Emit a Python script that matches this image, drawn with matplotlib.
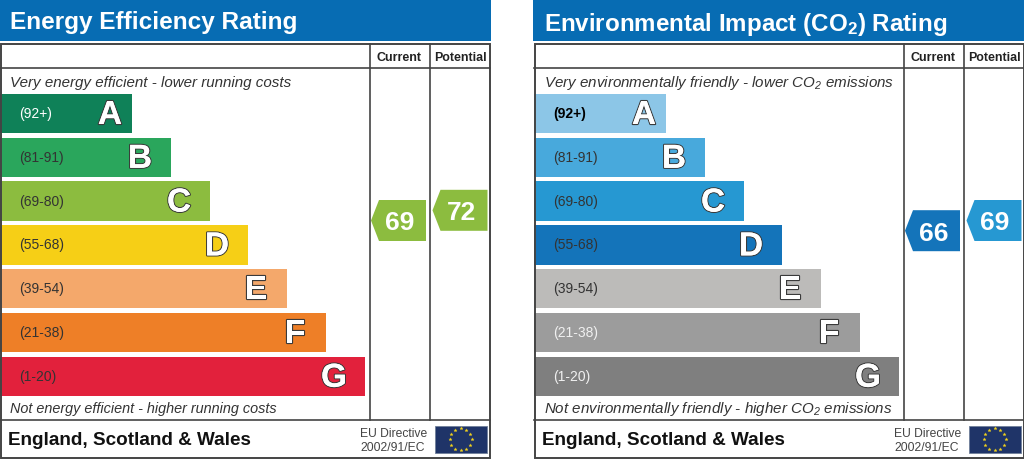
import matplotlib
matplotlib.use("Agg")
import matplotlib.pyplot as plt
import matplotlib.patheffects as pe
import numpy as np
from matplotlib.patches import Polygon, Rectangle

plt.rcParams["font.family"] = ["Liberation Sans", "DejaVu Sans"]
plt.rcParams["mathtext.default"] = "regular"

# Data
letters = ["A", "B", "C", "D", "E", "F", "G"]
ranges = ["(92+)", "(81-91)", "(69-80)", "(55-68)", "(39-54)", "(21-38)", "(1-20)"]
bar_lengths = [132, 171, 210, 248, 287, 326, 365]

energy_colors = ["#0f8158", "#2aa65c", "#8cbc3f", "#f6cf16", "#f4a86b", "#ee7f27", "#e2213c"]
energy_label_colors = ["white", "#333333", "#333333", "#333333", "#333333", "#333333", "#333333"]
env_colors = ["#8cc6e7", "#48a9dc", "#2698d2", "#1474ba", "#bcbbb9", "#9c9c9c", "#7f7f7f"]
env_label_colors = ["black", "#333333", "#333333", "#333333", "#333333", "#f0f0f0", "#f0f0f0"]

energy_current = 69
energy_potential = 72
env_current = 66
env_potential = 69

BLUE = "#076cb3"
LINE = "#444444"

fig = plt.figure(figsize=(10.24, 4.6), dpi=100)
ax = fig.add_axes([0, 0, 1, 1])
ax.set_xlim(0, 1024)
ax.set_ylim(460, 0)
ax.axis("off")


def badge(x0, rating, color):
    # pointer shaped box, height follows the rating
    yc = 221.5 - (rating - 69) * 3.4
    pts = [(x0, yc), (x0 + 8, yc - 20.5), (x0 + 55, yc - 20.5),
           (x0 + 55, yc + 20.5), (x0 + 8, yc + 20.5)]
    ax.add_patch(Polygon(pts, closed=True, fc=color, ec="none", zorder=3))
    ax.text(x0 + 28.5, yc + 2, str(rating), color="white", fontsize=19, fontweight="bold",
            ha="center", va="center", zorder=4)


def eu_flag(x, y, w, h):
    ax.add_patch(Rectangle((x, y), w, h, fc="#1f3468", ec="#6f7f99", lw=0.6, zorder=3))
    ang = np.arange(12) * np.pi / 6
    ax.scatter(x + w / 2 + 11 * np.cos(ang), y + h / 2 + 11 * np.sin(ang), s=6,
               marker="*", color="#f2d21c", linewidths=0.2, zorder=4)


def panel(x0, head_x0, head_x1, title, title_size, top_text, top_size, bottom_text, bottom_size,
          colors, label_colors, current, potential, cur_color, pot_color):
    ax.add_patch(Rectangle((head_x0, 0), head_x1 - head_x0, 41.5, fc=BLUE, ec="none"))
    ax.text(x0 + 10.5, 20.5, title, color="white", fontsize=title_size, fontweight="bold",
            ha="left", va="center_baseline")

    # frame and table lines
    ax.add_patch(Rectangle((x0 + 0.5, 44.5), 489, 414.5, fc="white", ec="none", zorder=1))
    ax.add_patch(Rectangle((x0 + 0.5, 44.5), 489, 414.5, fc="none", ec=LINE, lw=1.4, zorder=2.5))
    ax.plot([x0, x0 + 490], [69, 69], color=LINE, lw=1.2, zorder=2)
    ax.plot([x0, x0 + 490], [420.5, 420.5], color=LINE, lw=1.2, zorder=2)
    ax.plot([x0 + 369.5, x0 + 369.5], [45, 420.5], color=LINE, lw=1.2, zorder=2)
    ax.plot([x0 + 430, x0 + 430], [45, 420.5], color=LINE, lw=1.2, zorder=2)

    ax.text(x0 + 399, 58, "Current", color="#222222", fontsize=9, fontweight="bold",
            ha="center", va="center")
    ax.text(x0 + 460, 58, "Potential", color="#222222", fontsize=8.9, fontweight="bold",
            ha="center", va="center")

    ax.text(x0 + 10.5, 82.5, top_text, color="#333333", fontsize=top_size, style="italic",
            ha="left", va="center")
    ax.text(x0 + 10.5, 409.5, bottom_text, color="#333333", fontsize=bottom_size, style="italic",
            ha="left", va="center")

    # rating bars
    ys = 114.5 + np.arange(len(letters)) * 43.8
    ax.barh(ys, bar_lengths, height=39.5, left=x0, color=colors, zorder=2)
    for y, length, letter, rng, lc in zip(ys, bar_lengths, letters, ranges, label_colors):
        ax.text(x0 + 19, y - 0.5, rng, color=lc, fontsize=10,
                fontweight="bold" if lc == "black" else "normal",
                ha="left", va="center", zorder=3)
        # the A sits closer to the bar end than the other letters
        inset = 22 if letter == "A" else 31
        ax.text(x0 + length - inset, y + 10.5, letter, color="white", fontsize=24, fontweight="bold",
                ha="center", va="baseline", zorder=3,
                path_effects=[pe.withStroke(linewidth=1.6, foreground="#3a3a3a"), pe.Normal()])

    badge(x0 + 371, current, cur_color)
    badge(x0 + 432.5, potential, pot_color)

    ax.text(x0 + 7.5, 441, "England, Scotland & Wales", color="#111111", fontsize=13.6,
            fontweight="bold", ha="left", va="center")
    ax.text(x0 + 360.5, 434, "EU Directive", color="#444444", fontsize=8.7, ha="left", va="center")
    ax.text(x0 + 360.5, 448, "2002/91/EC", color="#444444", fontsize=8.7, ha="left", va="center")
    eu_flag(x0 + 434.5, 426.5, 52, 27.5)


panel(0, 0, 491, "Energy Efficiency Rating", 17.6,
      "Very energy efficient - lower running costs", 10.9,
      "Not energy efficient - higher running costs", 10.4,
      energy_colors, energy_label_colors, energy_current, energy_potential,
      energy_colors[2], energy_colors[2])
panel(534, 533, 1024, "Environmental Impact (CO$_2$) Rating", 17.4,
      "Very environmentally friendly - lower CO$_2$ emissions", 10.9,
      "Not environmentally friendly - higher CO$_2$ emissions", 10.9,
      env_colors, env_label_colors, env_current, env_potential,
      env_colors[3], env_colors[2])

fig.savefig("out.png", dpi=100, facecolor="white")
